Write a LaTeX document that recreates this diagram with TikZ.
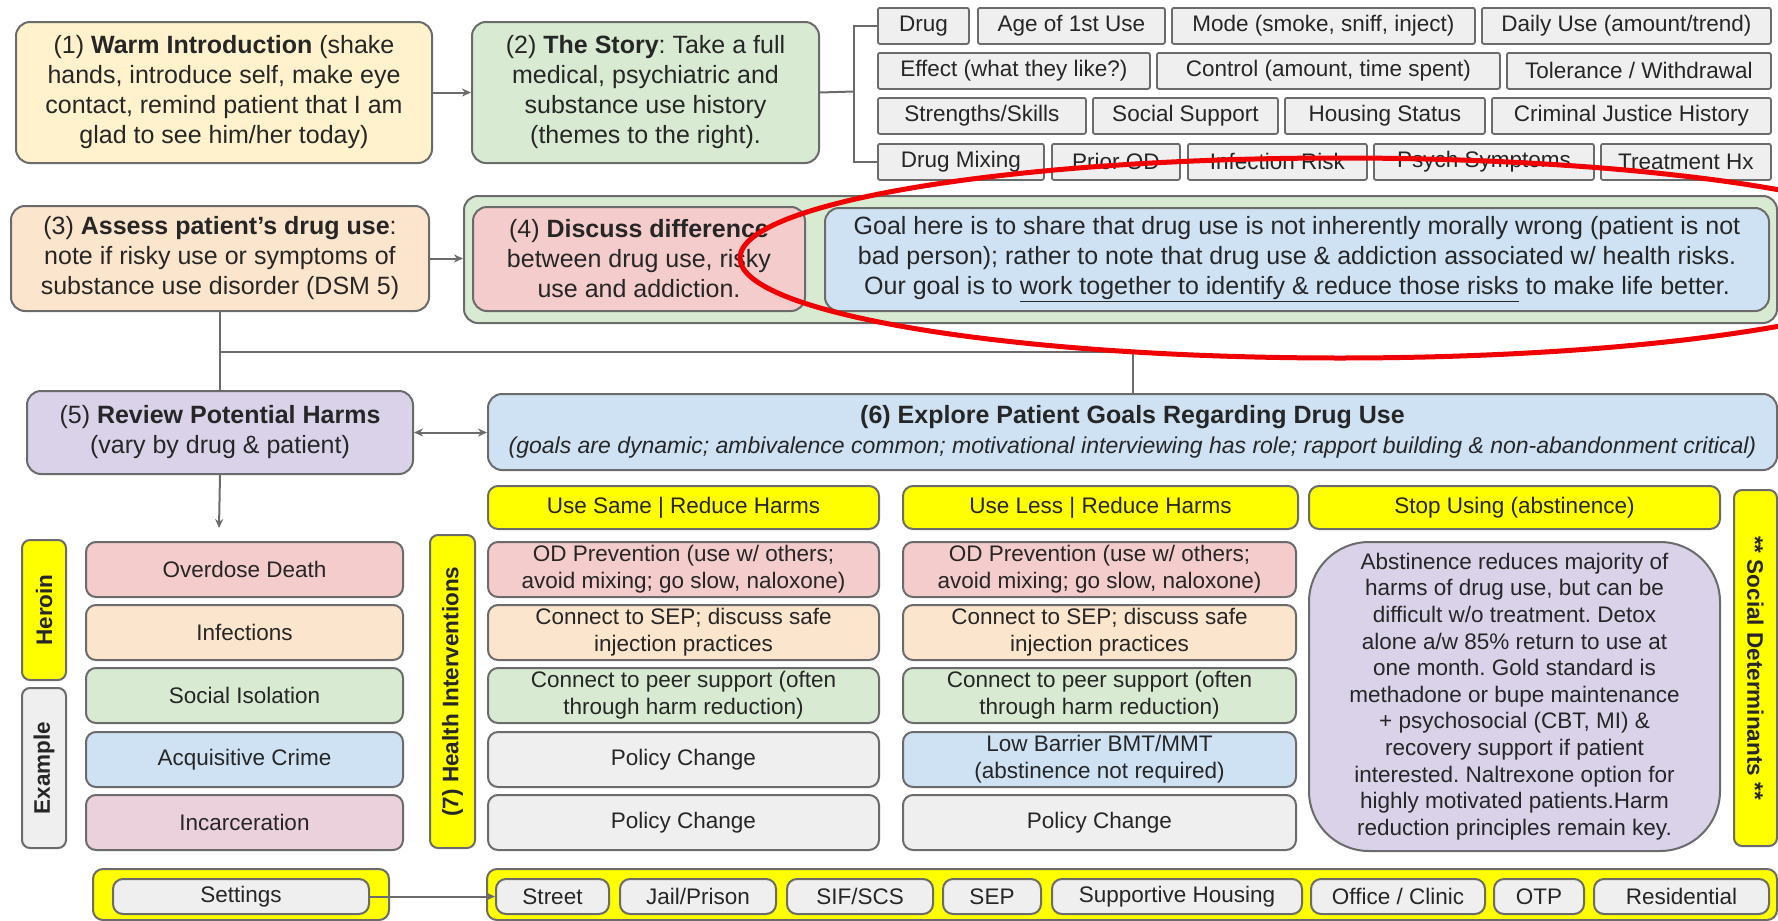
\documentclass[tikz,border=0pt]{standalone}
\usepackage{fontspec}
\setmainfont{Liberation Sans}
\usetikzlibrary{arrows.meta}
\frenchspacing

\definecolor{edgegray}{HTML}{6B6B6B}
\definecolor{warmc}{HTML}{FFF2CC}
\definecolor{storyc}{HTML}{D9EAD3}
\definecolor{assessc}{HTML}{FCE5CD}
\definecolor{discussc}{HTML}{F4CCCC}
\definecolor{bluec}{HTML}{CFE2F3}
\definecolor{purplec}{HTML}{D9D2E9}
\definecolor{greyc}{HTML}{EFEFEF}
\definecolor{pinkc}{HTML}{EAD1DC}
\definecolor{hiyellow}{HTML}{FFFF00}
\definecolor{ringred}{HTML}{F00000}

\newcommand{\fbig}{\fontsize{25}{30}\selectfont}
\newcommand{\fmid}{\fontsize{22.5}{27}\selectfont}

\tikzset{
card/.style={draw=edgegray, line width=2pt, rounded corners=14pt,
    align=center, inner sep=0pt, anchor=north west, text=black!85, font=\fbig},
theme/.style={draw=edgegray, line width=1.8pt, fill=greyc, rounded corners=2pt,
    anchor=north west, inner sep=0pt, minimum height=36, text=black!85, font=\fmid},
cell/.style={card, rounded corners=10pt, font=\fmid},
hdr/.style={cell, fill=hiyellow, minimum height=43},
bar/.style={draw=edgegray, line width=2pt, rounded corners=8pt, inner sep=0pt,
    text=black!85, font=\fmid\bfseries},
sz/.style 2 args={minimum width=#1, minimum height=#2},
wire/.style={draw=edgegray, line width=2pt},
arr/.style={wire, -{Stealth[length=9pt,width=8pt]}},
arrboth/.style={wire, {Stealth[length=9pt,width=8pt]}-{Stealth[length=9pt,width=8pt]}},
redring/.style={draw=ringred, line width=5pt}
}

\begin{document}
\begin{tikzpicture}[x=1pt, y=-1pt]
\useasboundingbox (0,0) rectangle (1778,921);
\fill[white] (0,0) rectangle (1778,921);

% top row
\node[card, fill=warmc, sz={416}{141}] (warm) at (15,21)
  {(1) \textbf{Warm Introduction} (shake\\ hands, introduce self, make eye\\
   contact, remind patient that I am\\ glad to see him/her today)};
\node[card, fill=storyc, sz={347}{141}] (story) at (471,21)
  {(2) \textbf{The Story}: Take a full\\ medical, psychiatric and\\
   substance use history\\ (themes to the right).};

% themes of the story
\node[theme, minimum width=91] (drug) at (877,7) {Drug};
\node[theme, minimum width=187] (age) at (977,7) {Age of 1st Use};
\node[theme, minimum width=303] (mode) at (1171,7) {Mode (smoke, sniff, inject)};
\node[theme, minimum width=289] (daily) at (1481,7) {Daily Use (amount/trend)};
\node[theme, minimum width=272] (effect) at (877,52) {Effect (what they like?)};
\node[theme, minimum width=343] (control) at (1156,52) {Control (amount, time spent)};
\node[theme, minimum width=264] (tolerance) at (1506,52) {Tolerance / Withdrawal};
\node[theme, minimum width=208] (strengths) at (877,97) {Strengths/Skills};
\node[theme, minimum width=185] (support) at (1092,97) {Social Support};
\node[theme, minimum width=200] (housing) at (1284,97) {Housing Status};
\node[theme, minimum width=279] (justice) at (1491,97) {Criminal Justice History};
\node[theme, minimum width=166] (mixing) at (877,143) {Drug Mixing};
\node[theme, minimum width=128] (priorod) at (1051,143) {Prior OD};
\node[theme, minimum width=179] (infrisk) at (1187,143) {Infection Risk};
\node[theme, minimum width=220] (psych) at (1373,143) {Psych Symptoms};
\node[theme, minimum width=170] (treathx) at (1600,143) {Treatment Hx};

% second row
\node[card, fill=assessc, sz={418}{105}] (assess) at (10,205)
  {(3) \textbf{Assess patient’s drug use}:\\ note if risky use or symptoms of\\
   substance use disorder (DSM 5)};
\node[card, fill=storyc, sz={1313}{127}] (talk) at (463,195) {};
\node[card, fill=discussc, sz={332}{104}] (discuss) at (472,206)
  {(4) \textbf{Discuss difference}\\ between drug use, risky\\ use and addiction.};
\node[card, fill=bluec, sz={944}{103}] (goal) at (824,207)
  {Goal here is to share that drug use is not inherently morally wrong (patient is not\\
   bad person); rather to note that drug use \& addiction associated w/ health risks.\\
   Our goal is to \underline{work together to identify \& reduce those risks} to make life better.};

% third row
\node[card, fill=purplec, sz={386}{83}] (harms) at (26,390)
  {(5) \textbf{Review Potential Harms}\\ (vary by drug \& patient)};
\node[card, fill=bluec, sz={1289}{76}] (goals) at (487,393)
  {\textbf{(6) Explore Patient Goals Regarding Drug Use}\\
   {\fontsize{23}{30}\selectfont\itshape (goals are dynamic; ambivalence common; motivational interviewing has role; rapport building \& non-abandonment critical)}};

% goal headers
\node[hdr, minimum width=391] (same) at (487,485) {Use Same | Reduce Harms};
\node[hdr, minimum width=395] (less) at (902,485) {Use Less | Reduce Harms};
\node[hdr, minimum width=411] (stop) at (1308,485) {Stop Using (abstinence)};

% harms of heroin
\node[bar, fill=hiyellow, rotate=90, sz={140}{44}] (heroin) at (44,610) {Heroin};
\node[bar, fill=greyc, rotate=90, sz={160}{44}] (example) at (44,768) {Example};
\node[cell, fill=discussc, sz={317}{55}] (odeath) at (85,541) {Overdose Death};
\node[cell, fill=assessc, sz={317}{55}] (infect) at (85,604) {Infections};
\node[cell, fill=storyc, sz={317}{55}] (isolate) at (85,667) {Social Isolation};
\node[cell, fill=bluec, sz={317}{55}] (crime) at (85,731) {Acquisitive Crime};
\node[cell, fill=pinkc, sz={317}{55}] (jailed) at (85,794) {Incarceration};

% health interventions
\node[bar, fill=hiyellow, rotate=90, sz={313}{45}] (health) at (452.5,691.5) {(7) Health Interventions};
\node[cell, fill=discussc, sz={391}{55}] (odsame) at (487,541)
  {OD Prevention (use w/ others;\\ avoid mixing; go slow, naloxone)};
\node[cell, fill=assessc, sz={391}{55}] (sepsame) at (487,604)
  {Connect to SEP; discuss safe\\ injection practices};
\node[cell, fill=storyc, sz={391}{55}] (peersame) at (487,667)
  {Connect to peer support (often\\ through harm reduction)};
\node[cell, fill=greyc, sz={391}{55}] (policya) at (487,731) {Policy Change};
\node[cell, fill=greyc, sz={391}{55}] (policyb) at (487,794) {Policy Change};
\node[cell, fill=discussc, sz={393}{55}] (odless) at (902,541)
  {OD Prevention (use w/ others;\\ avoid mixing; go slow, naloxone)};
\node[cell, fill=assessc, sz={393}{55}] (sepless) at (902,604)
  {Connect to SEP; discuss safe\\ injection practices};
\node[cell, fill=storyc, sz={393}{55}] (peerless) at (902,667)
  {Connect to peer support (often\\ through harm reduction)};
\node[cell, fill=bluec, sz={393}{55}] (lowbar) at (902,731)
  {Low Barrier BMT/MMT\\ (abstinence not required)};
\node[cell, fill=greyc, sz={393}{55}] (policyc) at (902,794) {Policy Change};
\node[cell, fill=purplec, rounded corners=60pt, sz={411}{309},
  font=\fontsize{22.5}{26.6}\selectfont] (abstain) at (1308,541)
  {Abstinence reduces majority of\\ harms of drug use, but can be\\
   difficult w/o treatment. Detox\\ alone a/w 85\% return to use at\\
   one month. Gold standard is\\ methadone or bupe maintenance\\
   + psychosocial (CBT, MI) \&\\ recovery support if patient\\
   interested. Naltrexone option for\\ highly motivated patients.Harm\\
   reduction principles remain key.};
\node[bar, fill=hiyellow, rotate=-90, sz={356}{43}] (socdet) at (1755.5,668) {** Social Determinants **};

% settings
\node[cell, fill=hiyellow, sz={296}{51}] (setframe) at (92,868) {};
\node[cell, fill=greyc, sz={256}{35}] (settings) at (112,878) {Settings};
\node[cell, fill=hiyellow, sz={1290}{51}] (placeframe) at (486,868) {};
\node[cell, fill=greyc, sz={113}{35}] (street) at (495,878) {Street};
\node[cell, fill=greyc, sz={156}{35}] (prison) at (619,878) {Jail/Prison};
\node[cell, fill=greyc, sz={146}{35}] (sif) at (786,878) {SIF/SCS};
\node[cell, fill=greyc, sz={98}{35}] (sep) at (942,878) {SEP};
\node[cell, fill=greyc, sz={250}{35}] (supphouse) at (1051,878) {Supportive Housing};
\node[cell, fill=greyc, sz={174}{35}] (office) at (1310,878) {Office / Clinic};
\node[cell, fill=greyc, sz={90}{35}] (otp) at (1493,878) {OTP};
\node[cell, fill=greyc, sz={175}{35}] (resid) at (1593,878) {Residential};

% connectors
\coordinate (brk) at (854,91.5);
\coordinate (split) at (219,352);
\coordinate (harmend) at (219,528);
\draw[arr] (warm.east) -- (story.west);
\draw[wire] (story.east) -- (brk);
\draw[wire] (drug.west) -| (brk) |- (mixing.west);
\draw[arr] (assess.east) -- (assess.east -| talk.west);
\draw[wire] (assess.south) -- (harms.north);
\draw[wire] (split) -| (goals.north);
\draw[arrboth] (harms.east) -- (harms.east -| goals.west);
\draw[arr] (harms.south) -- (harmend);
\draw[arr] (settings.east) -- (street.west);

% red marking
\draw[redring] (1340,258) ellipse [x radius=600, y radius=100];
\end{tikzpicture}
\end{document}
